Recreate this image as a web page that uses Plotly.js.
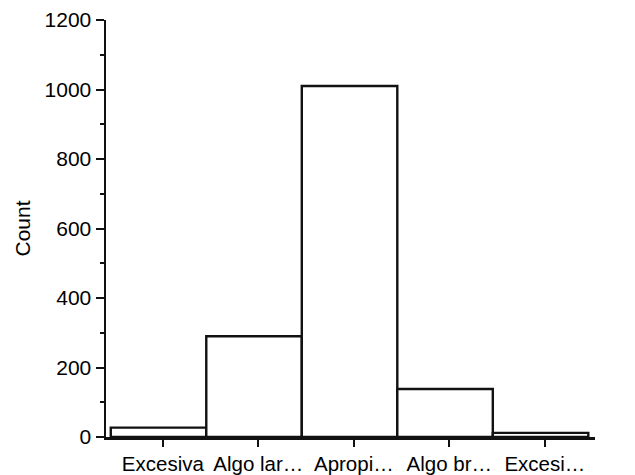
<!DOCTYPE html>
<html>
<head>
<meta charset="utf-8">
<script src="https://cdn.plot.ly/plotly-3.0.1.min.js"></script>
<style>html,body{margin:0;padding:0;background:#fff;}#chart{width:635px;height:475px;}</style>
</head>
<body>
<div id="chart"></div>
<script>
const categories = ["Excesiva", "Algo lar…", "Apropi…", "Algo br…", "Excesi…"];
const counts = [27, 290, 1010, 138, 12];
const yTicks = [0, 200, 400, 600, 800, 1000, 1200];
const yMinorTicks = [100, 300, 500, 700, 900, 1100];

// the printed x ticks sit slightly right of the bar centres
const tickShift = 0.045;

const trace = {
  type: "bar",
  x: categories.map((c, i) => i),
  y: counts,
  width: 1,
  marker: { color: "#ffffff", line: { color: "#111111", width: 2.4 } },
  hoverinfo: "skip"
};

const layout = {
  width: 635, height: 475,
  margin: { l: 106, r: 40, t: 20, b: 38 },
  paper_bgcolor: "#ffffff", plot_bgcolor: "#ffffff",
  font: { family: "Liberation Sans, Arial, sans-serif", size: 21, color: "#000000" },
  bargap: 0,
  showlegend: false,
  xaxis: {
    range: [-0.55, 4.57],
    tickmode: "array",
    tickvals: categories.map((c, i) => i + tickShift),
    ticktext: categories,
    showgrid: false, zeroline: false,
    showline: true, linecolor: "#111111", linewidth: 2.5,
    ticks: "outside", ticklen: 7, tickwidth: 2, tickcolor: "#111111",
    tickfont: { size: 20.5 },
    automargin: false,
    fixedrange: true
  },
  yaxis: {
    range: [0, 1200],
    tickmode: "array",
    tickvals: yTicks,
    ticktext: yTicks.map(String),
    showgrid: false, zeroline: false,
    showline: true, linecolor: "#111111", linewidth: 2.5,
    ticks: "outside", ticklen: 8, tickwidth: 2, tickcolor: "#111111",
    minor: { tickvals: yMinorTicks, ticks: "outside", ticklen: 4, tickwidth: 2, tickcolor: "#111111" },
    tickfont: { size: 21 },
    title: { text: "Count", font: { size: 21 }, standoff: 8 },
    automargin: false,
    fixedrange: true
  }
};

Plotly.newPlot("chart", [trace], layout, { displayModeBar: false, staticPlot: true });
</script>
</body>
</html>
